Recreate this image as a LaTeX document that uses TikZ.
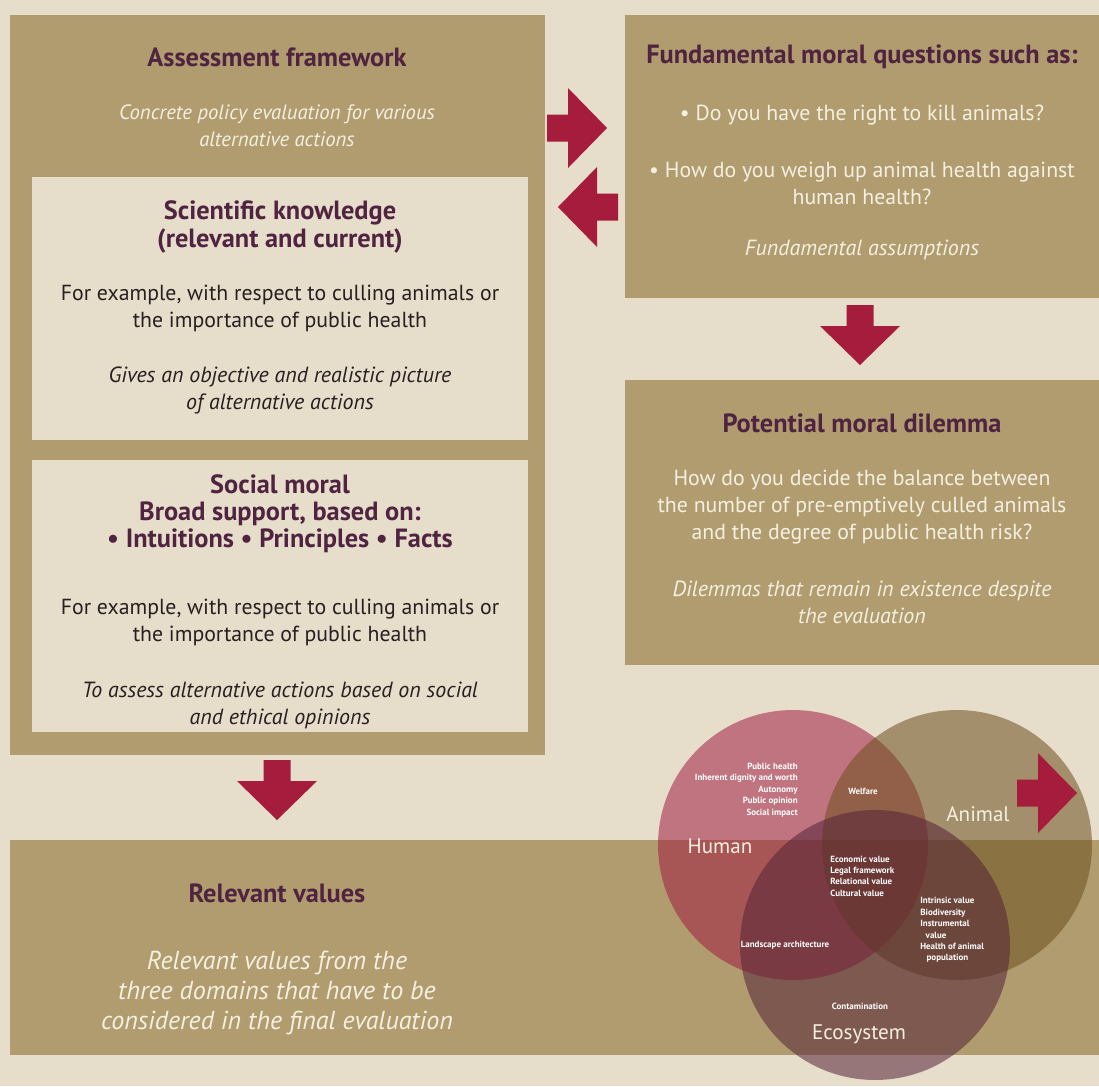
\documentclass[tikz,border=0pt]{standalone}
\usepackage{fontspec}
\setmainfont{PT Sans}
\usetikzlibrary{fit}
\definecolor{bgcream}{RGB}{230,221,203}
\definecolor{boxtan}{RGB}{176,156,110}
\definecolor{titleplum}{RGB}{80,36,64}
\definecolor{textcream}{RGB}{245,240,225}
\definecolor{textdark}{RGB}{40,32,32}
\definecolor{arrowred}{RGB}{165,28,60}
\definecolor{humanred}{RGB}{160,30,65}
\definecolor{animalbrown}{RGB}{110,80,30}
\definecolor{ecoplum}{RGB}{85,35,55}

\begin{document}
\begin{tikzpicture}[x=0.02cm,y=-0.02cm,
      box/.style={fill=boxtan,inner sep=0pt},
      panel/.style={fill=bgcream,inner sep=0pt},
      headline/.style={font=\fontsize{15}{15.4}\selectfont\bfseries,text=titleplum,align=center},
      bodytext/.style={font=\fontsize{12.4}{15.4}\selectfont,align=center},
      note/.style={font=\fontsize{12.5}{15.4}\selectfont\itshape,align=center},
      venncircle/.style={circle,minimum size=5.4cm,inner sep=0pt,fill opacity=0.55},
      circlelabel/.style={font=\fontsize{12}{13}\selectfont,text=textcream},
      smalllist/.style={font=\fontsize{5.1}{6.5}\selectfont\bfseries,text=white,inner sep=0pt},
      blockarr/.pic={\fill[arrowred] (0,-13.5) -- (21,-13.5) -- (21,-40) -- (60,0) -- (21,40) -- (21,13.5) -- (0,13.5) -- cycle;}
    ]
    \useasboundingbox (0,0) rectangle (1099,1086);
    \fill[bgcream] (0,0) rectangle (1099,1086);

    % left column
    \node[box,fit={(10,15) (545,755)}] (frame) {};
    \node[panel,fit={(32,177) (528,440)}] (science) {};
    \node[panel,fit={(32,460) (528,732)}] (social) {};
    \node[headline] (frametitle) at (277,57) {Assessment framework};
    \node[note,text=textcream,font=\fontsize{11.8}{15.4}\selectfont\itshape] (framenote) at (277,126) {Concrete policy evaluation for various\\alternative actions};

    \node[headline] (sciencetitle) at (280,227) {Scientific knowledge\\(relevant and current)};
    \node[bodytext,text=textdark] (sciencebody) at (280,308) {For example, with respect to culling animals or\\the importance of public health};
    \node[note,text=textdark] (sciencenote) at (280,390) {Gives an objective and realistic picture\\of alternative actions};

    \node[headline] (socialtitle) at (280,514) {Social moral\\Broad support, based on:\\• Intuitions • Principles • Facts};
    \node[bodytext,text=textdark] (socialbody) at (280,622) {For example, with respect to culling animals or\\the importance of public health};
    \node[note,text=textdark] (socialnote) at (280,705) {To assess alternative actions based on social\\and ethical opinions};

    % right column
    \node[box,fit={(625,15) (1099,298)}] (questions) {};
    \node[headline] (questionstitle) at (862,57) {Fundamental moral questions such as:};
    \node[bodytext,text=textcream] (questionone) at (862,115) {• Do you have the right to kill animals?};
    \node[bodytext,text=textcream] (questiontwo) at (862,183) {• How do you weigh up animal health against\\human health?};
    \node[note,text=textcream] (questionsnote) at (862,250) {Fundamental assumptions};

    \node[box,fit={(625,380) (1099,665)}] (dilemma) {};
    \node[headline] (dilemmatitle) at (862,423) {Potential moral dilemma};
    \node[bodytext,text=textcream] (dilemmabody) at (862,507) {How do you decide the balance between\\the number of pre-emptively culled animals\\and the degree of public health risk?};
    \node[note,text=textcream] (dilemmanote) at (862,602) {Dilemmas that remain in existence despite\\the evaluation};

    % bottom band
    \node[box,fit={(10,840) (1099,1055)}] (values) {};
    \node[headline] (valuestitle) at (277,893) {Relevant values};
    \node[note,text=textcream,font=\fontsize{14.8}{17}\selectfont\itshape] (valuesnote) at (277,993) {Relevant values from the\\three domains that have to be\\considered in the final evaluation};

    % block arrows
    \pic at (547,128) {blockarr};
    \pic[rotate=180] at (618,207) {blockarr};
    \pic[rotate=-90] at (860,305) {blockarr};
    \pic[rotate=-90] at (277,760) {blockarr};

    % venn of the three domains
    \node[venncircle,fill=humanred] (human) at (793,845) {};
    \node[venncircle,fill=animalbrown] (animal) at (957,845) {};
    \node[venncircle,fill=ecoplum] (ecosystem) at (875,945) {};
    \pic at (1017,793) {blockarr};

    \node[circlelabel] (humanlabel) at (720,846) {Human};
    \node[circlelabel] (animallabel) at (978,814) {Animal};
    \node[circlelabel] (ecosystemlabel) at (859,1034) {Ecosystem};

    \node[smalllist,anchor=east,align=right] (humanlist) at (798,790) {Public health\\Inherent dignity and worth\\Autonomy\\Public opinion\\Social impact};
    \node[smalllist] (welfare) at (863,791) {Welfare};
    \node[smalllist,anchor=west,align=left] (sharedlist) at (830,876) {Economic value\\Legal framework\\Relational value\\Cultural value};
    \node[smalllist,anchor=west,align=left] (animallist) at (920,930) {Intrinsic value\\Biodiversity\\Instrumental\\\hspace*{0.6em}value\\Health of animal\\\hspace*{0.7em}population};
    \node[smalllist] (landscape) at (785,945) {Landscape architecture};
    \node[smalllist] (contamination) at (860,1006) {Contamination};
  \end{tikzpicture}
\end{document}
